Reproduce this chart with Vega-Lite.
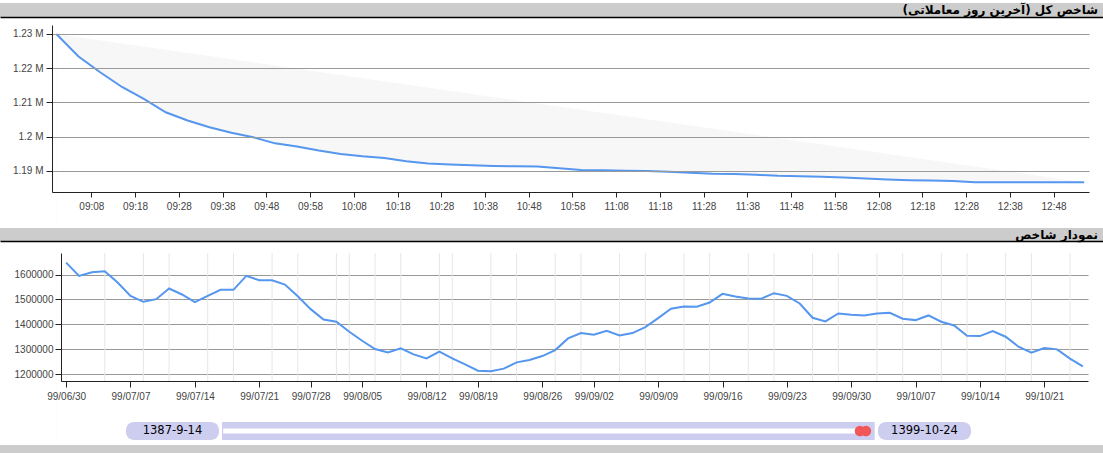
{
  "$schema": "https://vega.github.io/schema/vega-lite/v6.json",
  "background": "white",
  "padding": {"left": 0, "top": 3, "right": 0, "bottom": 0},
  "spacing": 0,
  "bounds": "flush",
  "config": {
    "view": {"stroke": null},
    "font": "Liberation Sans",
    "axis": {"labelFont": "Liberation Sans", "labelFontSize": 10, "labelColor": "#444", "domainColor": "#222", "tickColor": "#222", "gridColor": "#999", "title": null}
  },
  "datasets": {
    "intraday": [
      {"minute": 540, "value": 1230000}, {"minute": 545, "value": 1223500}, {"minute": 550, "value": 1218800},
      {"minute": 555, "value": 1214500}, {"minute": 560, "value": 1211000}, {"minute": 565, "value": 1207100},
      {"minute": 570, "value": 1204700}, {"minute": 575, "value": 1202700}, {"minute": 580, "value": 1201100},
      {"minute": 585, "value": 1199800}, {"minute": 590, "value": 1198000}, {"minute": 595, "value": 1197100},
      {"minute": 600, "value": 1195900}, {"minute": 605, "value": 1194900}, {"minute": 610, "value": 1194200},
      {"minute": 615, "value": 1193700}, {"minute": 620, "value": 1192800}, {"minute": 625, "value": 1192100},
      {"minute": 630, "value": 1191800}, {"minute": 635, "value": 1191600}, {"minute": 640, "value": 1191400},
      {"minute": 645, "value": 1191300}, {"minute": 650, "value": 1191200}, {"minute": 655, "value": 1190700},
      {"minute": 660, "value": 1190200}, {"minute": 665, "value": 1190100}, {"minute": 670, "value": 1190000},
      {"minute": 675, "value": 1189900}, {"minute": 680, "value": 1189700}, {"minute": 685, "value": 1189400},
      {"minute": 690, "value": 1189100}, {"minute": 695, "value": 1189000}, {"minute": 700, "value": 1188800},
      {"minute": 705, "value": 1188500}, {"minute": 710, "value": 1188400}, {"minute": 715, "value": 1188200},
      {"minute": 720, "value": 1188000}, {"minute": 725, "value": 1187700}, {"minute": 730, "value": 1187400},
      {"minute": 735, "value": 1187200}, {"minute": 740, "value": 1187100}, {"minute": 745, "value": 1187000},
      {"minute": 750, "value": 1186600}, {"minute": 755, "value": 1186600}, {"minute": 760, "value": 1186600},
      {"minute": 765, "value": 1186600}, {"minute": 770, "value": 1186600}, {"minute": 775, "value": 1186600}
    ],
    "openClose": [
      {"minute": 540, "value": 1230000}, {"minute": 775, "value": 1186600}
    ],
    "daily": [
      {"day": 0, "value": 1648000}, {"day": 1, "value": 1594700}, {"day": 2, "value": 1609000}, {"day": 3, "value": 1613300},
      {"day": 4, "value": 1568000}, {"day": 5, "value": 1514700}, {"day": 6, "value": 1490700}, {"day": 7, "value": 1501300},
      {"day": 8, "value": 1544000}, {"day": 9, "value": 1520000}, {"day": 10, "value": 1489300}, {"day": 11, "value": 1514700},
      {"day": 12, "value": 1538700}, {"day": 13, "value": 1538700}, {"day": 14, "value": 1594700}, {"day": 15, "value": 1577300},
      {"day": 16, "value": 1577300}, {"day": 17, "value": 1560000}, {"day": 18, "value": 1513300}, {"day": 19, "value": 1461300},
      {"day": 20, "value": 1420000}, {"day": 21, "value": 1410700}, {"day": 22, "value": 1370700}, {"day": 23, "value": 1334700},
      {"day": 24, "value": 1301300}, {"day": 25, "value": 1288000}, {"day": 26, "value": 1304000}, {"day": 27, "value": 1280000},
      {"day": 28, "value": 1264000}, {"day": 29, "value": 1290700}, {"day": 30, "value": 1264000}, {"day": 31, "value": 1240000},
      {"day": 32, "value": 1214700}, {"day": 33, "value": 1212000}, {"day": 34, "value": 1222700}, {"day": 35, "value": 1248000},
      {"day": 36, "value": 1257300}, {"day": 37, "value": 1273300}, {"day": 38, "value": 1297300}, {"day": 39, "value": 1344000},
      {"day": 40, "value": 1365300}, {"day": 41, "value": 1358700}, {"day": 42, "value": 1374700}, {"day": 43, "value": 1356000},
      {"day": 44, "value": 1365300}, {"day": 45, "value": 1389300}, {"day": 46, "value": 1425300}, {"day": 47, "value": 1462700},
      {"day": 48, "value": 1472000}, {"day": 49, "value": 1470700}, {"day": 50, "value": 1488000}, {"day": 51, "value": 1522700},
      {"day": 52, "value": 1512000}, {"day": 53, "value": 1504000}, {"day": 54, "value": 1502700}, {"day": 55, "value": 1525300},
      {"day": 56, "value": 1514700}, {"day": 57, "value": 1484000}, {"day": 58, "value": 1426700}, {"day": 59, "value": 1412000},
      {"day": 60, "value": 1444000}, {"day": 61, "value": 1438700}, {"day": 62, "value": 1436000}, {"day": 63, "value": 1444000},
      {"day": 64, "value": 1446700}, {"day": 65, "value": 1422700}, {"day": 66, "value": 1417300}, {"day": 67, "value": 1436000},
      {"day": 68, "value": 1410700}, {"day": 69, "value": 1396000}, {"day": 70, "value": 1354700}, {"day": 71, "value": 1353300},
      {"day": 72, "value": 1373300}, {"day": 73, "value": 1350700}, {"day": 74, "value": 1310700}, {"day": 75, "value": 1286700},
      {"day": 76, "value": 1305300}, {"day": 77, "value": 1300000}, {"day": 78, "value": 1262700}, {"day": 79, "value": 1232000}
    ],
    "gridDays": [
      {"day": 3}, {"day": 6}, {"day": 8}, {"day": 11}, {"day": 13}, {"day": 16}, {"day": 18}, {"day": 21},
      {"day": 22}, {"day": 24}, {"day": 26}, {"day": 29}, {"day": 30}, {"day": 33}, {"day": 35}, {"day": 38},
      {"day": 40}, {"day": 43}, {"day": 45}, {"day": 48}, {"day": 50}, {"day": 53}, {"day": 55}, {"day": 58},
      {"day": 60}, {"day": 63}, {"day": 65}, {"day": 68}, {"day": 70}, {"day": 73}, {"day": 75}, {"day": 78}
    ]
  },
  "vconcat": [
    {
      "width": 1103, "height": 14,
      "view": {"fill": "#cccccc", "stroke": null},
      "data": {"values": [{"title": "شاخص کل (آخرین روز معاملاتی)‏"}]},
      "mark": {"type": "text", "align": "right", "baseline": "middle", "dx": -5, "font": "DejaVu Sans", "fontSize": 12, "fontWeight": "bold", "color": "black"},
      "encoding": {
        "text": {"field": "title"},
        "x": {"datum": 1, "type": "quantitative", "scale": {"domain": [0, 1]}, "axis": {"domain": true, "domainColor": "black", "domainWidth": 1.5, "labels": false, "ticks": false, "grid": false}}
      }
    },
    {"width": 10, "height": 8, "data": {"values": []}, "mark": "text"},
    {
      "width": 1089, "height": 167,
      "encoding": {
        "x": {"field": "minute", "type": "quantitative",
              "scale": {"domain": [539, 776.1], "range": [52, 1089], "nice": false, "zero": false},
              "axis": {"values": [548, 558, 568, 578, 588, 598, 608, 618, 628, 638, 648, 658, 668, 678, 688, 698, 708, 718, 728, 738, 748, 758, 768],
                       "labelExpr": "(datum.value < 600 ? '0' : '') + floor(datum.value / 60) + ':' + (datum.value % 60 < 10 ? '0' : '') + (datum.value % 60)",
                       "grid": false, "tickSize": 5, "labelPadding": 4, "zindex": 1}},
        "y": {"field": "value", "type": "quantitative",
              "scale": {"domain": [1183770, 1232630], "nice": false, "zero": false},
              "axis": {"values": [1190000, 1200000, 1210000, 1220000, 1230000],
                       "labelExpr": "format(datum.value / 1000000, '.2~f') + ' M'",
                       "offset": -52, "grid": true, "tickSize": 6, "labelPadding": 3, "zindex": 1}}
      },
      "layer": [
        {"data": {"name": "openClose"}, "mark": {"type": "area", "color": "#f7f7f7"}},
        {"data": {"name": "intraday"}, "mark": {"type": "area", "color": "white"}},
        {"data": {"name": "intraday"}, "mark": {"type": "line", "color": "#5596ee", "strokeWidth": 2}}
      ]
    },
    {"width": 10, "height": 36, "data": {"values": []}, "mark": "text"},
    {
      "width": 1103, "height": 13,
      "view": {"fill": "#cccccc", "stroke": null},
      "data": {"values": [{"title": "نمودار شاخص"}]},
      "mark": {"type": "text", "align": "right", "baseline": "middle", "dx": -5, "font": "DejaVu Sans", "fontSize": 12, "fontWeight": "bold", "color": "black"},
      "encoding": {
        "text": {"field": "title"},
        "x": {"datum": 1, "type": "quantitative", "scale": {"domain": [0, 1]}, "axis": {"domain": true, "domainColor": "black", "domainWidth": 1.5, "labels": false, "ticks": false, "grid": false}}
      }
    },
    {"width": 10, "height": 12, "data": {"values": []}, "mark": "text"},
    {
      "width": 1088, "height": 128,
      "encoding": {
        "x": {"field": "day", "type": "quantitative",
              "scale": {"domain": [-0.4, 79.4], "range": [61, 1088], "nice": false, "zero": false},
              "axis": {"values": [0, 5, 10, 15, 19, 23, 28, 32, 37, 41, 46, 51, 56, 61, 66, 71, 76],
                       "labelExpr": "['99/06/30','99/07/07','99/07/14','99/07/21','99/07/28','99/08/05','99/08/12','99/08/19','99/08/26','99/09/02','99/09/09','99/09/16','99/09/23','99/09/30','99/10/07','99/10/14','99/10/21'][indexof([0,5,10,15,19,23,28,32,37,41,46,51,56,61,66,71,76], datum.value)]",
                       "grid": false, "tickSize": 6, "labelPadding": 4}}
      },
      "layer": [
        {"data": {"name": "gridDays"}, "mark": {"type": "rule", "color": "#e6e6e6", "strokeWidth": 1}},
        {"data": {"name": "daily"}, "mark": {"type": "line", "color": "#5596ee", "strokeWidth": 2},
         "encoding": {
           "y": {"field": "value", "type": "quantitative",
                 "scale": {"domain": [1173200, 1686400], "nice": false, "zero": false},
                 "axis": {"values": [1200000, 1300000, 1400000, 1500000, 1600000], "format": "d",
                          "offset": -61, "grid": true, "tickSize": 6, "labelPadding": 2}}
         }}
      ]
    },
    {"width": 10, "height": 41, "data": {"values": []}, "mark": "text"},
    {
      "width": 1103, "height": 18,
      "layer": [
        {"data": {"values": [{}]}, "mark": {"type": "rect", "color": "#cdcdf0", "cornerRadius": 8},
         "encoding": {"x": {"datum": 0, "type": "quantitative", "scale": {"domain": [0, 1], "range": [126, 971]}, "axis": null}, "x2": {"datum": 0.11}}},
        {"data": {"values": [{}]}, "mark": {"type": "rect", "color": "#cdcdf0"},
         "encoding": {"x": {"datum": 0.1136, "type": "quantitative"}, "x2": {"datum": 0.886}}},
        {"data": {"values": [{}]}, "mark": {"type": "rect", "color": "#cdcdf0", "cornerRadius": 8},
         "encoding": {"x": {"datum": 0.8899, "type": "quantitative"}, "x2": {"datum": 1}}},
        {"data": {"values": [{}]}, "mark": {"type": "rule", "color": "white", "strokeWidth": 5},
         "encoding": {"x": {"datum": 0.115, "type": "quantitative"}, "x2": {"datum": 0.8627},
                      "y": {"datum": 0.5, "type": "quantitative", "scale": {"domain": [0, 1]}, "axis": null}}},
        {"data": {"values": [{"at": "handle"}]}, "mark": {"type": "point", "filled": true, "color": "#f25757", "opacity": 1, "size": 110},
         "encoding": {"x": {"datum": 0.8686, "type": "quantitative"},
                      "y": {"datum": 0.5, "type": "quantitative"}}},
        {"data": {"values": [{"at": "handle"}]}, "mark": {"type": "point", "filled": true, "color": "#f25757", "opacity": 1, "size": 110},
         "encoding": {"x": {"datum": 0.8757, "type": "quantitative"},
                      "y": {"datum": 0.5, "type": "quantitative"}}},
        {"data": {"values": [{"label": "1387-9-14"}]}, "mark": {"type": "text", "font": "DejaVu Sans", "fontSize": 11.5, "color": "black", "baseline": "middle"},
         "encoding": {"text": {"field": "label"}, "x": {"datum": 0.055, "type": "quantitative"}}},
        {"data": {"values": [{"label": "1399-10-24"}]}, "mark": {"type": "text", "font": "DejaVu Sans", "fontSize": 11.5, "color": "black", "baseline": "middle"},
         "encoding": {"text": {"field": "label"}, "x": {"datum": 0.945, "type": "quantitative"}}}
      ]
    },
    {"width": 10, "height": 5, "data": {"values": []}, "mark": "text"},
    {"width": 1103, "height": 8, "view": {"fill": "#cccccc", "stroke": null}, "data": {"values": []}, "mark": "text"}
  ]
}
